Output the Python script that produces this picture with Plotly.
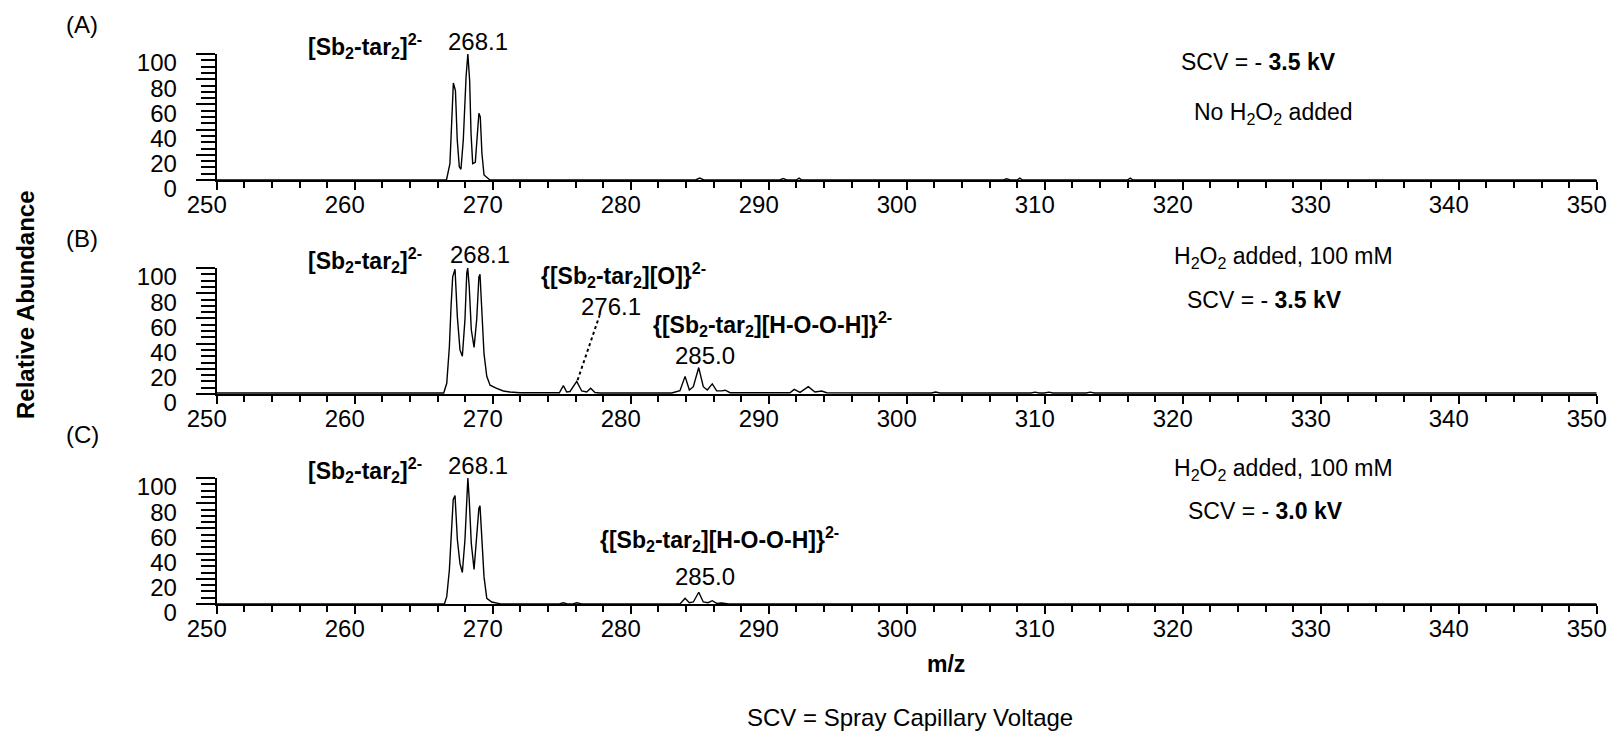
import plotly.graph_objects as go

# ---- spectrum profiles (m/z, relative abundance %) ----
# (A) no H2O2, SCV -3.5 kV
mz_a = [250.0, 266.65, 266.9, 267.0, 267.15, 267.3, 267.43, 267.58, 267.7, 267.87,
        268.07, 268.2, 268.33, 268.43, 268.55, 268.74, 268.88, 269.0, 269.1, 269.22,
        269.37, 269.6, 269.8, 284.7, 285.0, 285.3, 290.8, 291.05, 291.3, 292.0,
        292.2, 292.4, 307.0, 307.25, 307.5, 308.0, 308.2, 308.4, 316.0, 316.2,
        316.4, 350.0]
ab_a = [0, 0, 13, 37, 77, 71, 32, 10.5, 8.5, 32,
        82, 100, 79, 37, 13, 14, 40, 53, 50, 21,
        4, 2, 0, 0, 1.5, 0, 0, 1.2, 0, 0,
        1.5, 0, 0, 1, 0, 0, 1.5, 0, 0, 1.5,
        0, 0]

# (B) H2O2 100 mM, SCV -3.5 kV
mz_b = [250.0, 266.45, 266.67, 266.86, 266.98, 267.1, 267.27, 267.44, 267.63, 267.8,
        267.99, 268.12, 268.19, 268.3, 268.45, 268.65, 268.84, 269.0, 269.08, 269.2,
        269.37, 269.57, 269.81, 270.29, 270.77, 271.25, 271.98, 274.83, 275.12, 275.36,
        275.6, 276.09, 276.45, 276.81, 277.1, 277.41, 277.78, 282.97, 283.57, 283.94,
        284.25, 284.54, 284.93, 285.26, 285.55, 285.91, 286.23, 286.59, 286.85, 287.2,
        291.54, 291.85, 292.27, 292.87, 293.35, 293.84, 294.2, 301.8, 302.1, 302.4,
        309.0, 309.3, 309.6, 310.0, 310.3, 310.6, 313.0, 313.3, 313.6, 350.0]
ab_b = [0.8, 0.8, 8.5, 37.5, 69, 93, 99, 61, 35, 30,
        59, 96, 100, 85, 51, 37, 59, 93, 95, 72,
        32, 14, 7, 4.5, 2.4, 1.6, 1.0, 1.0, 6.6, 1.6,
        2.0, 10, 2.4, 1.6, 4.5, 1.2, 0.8, 0.8, 2.6, 14,
        3.2, 5.8, 21, 5.8, 3.2, 8, 2.5, 2.5, 3, 1.0,
        1.0, 3.7, 1.3, 5.8, 1.6, 2.4, 1.0, 0.8, 1.6, 0.8,
        0.8, 1.5, 0.8, 0.8, 1.5, 0.8, 0.8, 1.5, 0.8, 0.8]

# (C) H2O2 100 mM, SCV -3.0 kV
mz_c = [250.0, 266.5, 266.67, 266.86, 267.03, 267.14, 267.27, 267.44, 267.63, 267.8,
        267.99, 268.12, 268.2, 268.3, 268.45, 268.65, 268.84, 269.0, 269.08, 269.22,
        269.37, 269.57, 269.93, 270.41, 270.6, 274.83, 275.12, 275.4, 275.8, 276.09,
        276.45, 283.57, 283.94, 284.25, 284.54, 284.93, 285.26, 285.6, 285.91, 286.23,
        286.59, 287.1, 350.0]
ab_c = [0, 0, 5.8, 27, 61, 83, 86, 51, 32, 25,
        51, 85, 100, 83, 48, 27.5, 51, 76, 78, 51,
        21.7, 4.5, 1.6, 0.5, 0, 0, 1, 0, 0, 1,
        0, 0, 4.5, 1, 1.6, 9.3, 1.6, 1, 2.6, 0.5,
        0.8, 0, 0]

panel_tags = ["(A)", "(B)", "(C)"]
x_ticks = [250, 260, 270, 280, 290, 300, 310, 320, 330, 340, 350]
y_ticks = [0, 20, 40, 60, 80, 100]

# labelled peaks
base_peak = 268.1
oxo_peak = (276.1, 10.0)
peroxo_peak = 285.0

W, H = 1608, 732
FONT = "Arial, Liberation Sans, sans-serif"
FS = 23
TICK_FS = 24

# plot-area placement in pixels: (x-axis row, top row)
x_left, x_right = 216.7, 1596.7
rows = [(180, 54), (394, 268), (604, 478)]
X_MIN, X_MAX = 250, 350


def to_paper(mz, pct, panel):
    """Map (m/z, %) of a panel to paper coordinates (labels may sit above 100 %)."""
    bottom, top = rows[panel]
    px = x_left + (mz - X_MIN) / (X_MAX - X_MIN) * (x_right - x_left)
    py = bottom - pct / 100 * (bottom - top)
    return px / W, 1 - py / H


fig = go.Figure()
profiles = [(mz_a, ab_a), (mz_b, ab_b), (mz_c, ab_c)]
for i, (mz, ab) in enumerate(profiles, 1):
    sfx = "" if i == 1 else str(i)
    fig.add_trace(go.Scatter(
        x=mz, y=ab, mode="lines",
        line=dict(color="black", width=1.4),
        xaxis="x" + sfx, yaxis="y" + sfx, showlegend=False, hoverinfo="skip"))

    bottom, top = rows[i - 1]
    fig.update_layout(**{
        "xaxis" + sfx: dict(
            domain=[x_left / W, x_right / W], anchor="y" + sfx,
            range=[X_MIN, X_MAX], tickmode="array", tickvals=x_ticks,
            ticks="outside", ticklen=8, tickwidth=2, tickcolor="black",
            showline=True, linewidth=2, linecolor="black",
            showgrid=False, zeroline=False, automargin=False,
            minor=dict(dtick=2, tick0=250, ticks="outside", ticklen=6,
                       tickwidth=2, tickcolor="black", showgrid=False),
            tickfont=dict(family=FONT, size=TICK_FS, color="black"),
            ticklabelshift=-10, ticklabelstandoff=-6),
        "yaxis" + sfx: dict(
            domain=[1 - bottom / H, 1 - top / H], anchor="x" + sfx,
            range=[0, 100], tickmode="array", tickvals=y_ticks,
            ticks="outside", ticklen=19, tickwidth=2, tickcolor="black",
            showline=True, linewidth=2, linecolor="black",
            showgrid=False, zeroline=False, automargin=False,
            minor=dict(dtick=5, tick0=0, ticks="outside", ticklen=14,
                       tickwidth=2, tickcolor="black", showgrid=False),
            tickfont=dict(family=FONT, size=TICK_FS, color="black"),
            ticklabelshift=9, ticklabelstandoff=14),
    })


def note(text, mz, pct, panel, bold=False, size=FS):
    if bold:
        text = "<b>" + text + "</b>"
    xp, yp = to_paper(mz, pct, panel)
    fig.add_annotation(text=text, x=xp, y=yp, xref="paper", yref="paper",
                       showarrow=False, xanchor="center", yanchor="middle",
                       font=dict(family=FONT, size=size, color="black"))


SB = "[Sb<sub>2</sub>-tar<sub>2</sub>]"
SUP = "<sup>2-</sup>"
H2O2 = "H<sub>2</sub>O<sub>2</sub>"

# (A)
note(SB + SUP, 260.75, 106, 0, bold=True)
note(f"{base_peak:.1f}", 268.9, 110, 0, size=TICK_FS)
note("SCV = - <b>3.5 kV</b>", 325.5, 93.7, 0)
note("No " + H2O2 + " added", 326.6, 53, 0)

# (B)
note(SB + SUP, 260.75, 106, 1, bold=True)
note(f"{base_peak:.1f}", 269.1, 111, 1, size=TICK_FS)
note("{" + SB + "[O]}" + SUP, 279.5, 94.4, 1, bold=True)
note(f"{oxo_peak[0]:.1f}", 278.6, 69.8, 1, size=TICK_FS)
note("{" + SB + "[H-O-O-H]}" + SUP, 290.3, 55.6, 1, bold=True)
note(f"{peroxo_peak:.1f}", 285.35, 30.2, 1, size=TICK_FS)
note(H2O2 + " added, 100 mM", 327.3, 108.7, 1)
note("SCV = - <b>3.5 kV</b>", 325.9, 74.6, 1)

# (C)
note(SB + SUP, 260.75, 106, 2, bold=True)
note(f"{base_peak:.1f}", 268.95, 110, 2, size=TICK_FS)
note("{" + SB + "[H-O-O-H]}" + SUP, 286.4, 51.6, 2, bold=True)
note(f"{peroxo_peak:.1f}", 285.35, 22.2, 2, size=TICK_FS)
note(H2O2 + " added, 100 mM", 327.3, 107, 2)
note("SCV = - <b>3.0 kV</b>", 326.0, 73.8, 2)

# dotted leader from the oxo peak up to its label
fig.add_shape(type="line", xref="x2", yref="y2",
              x0=oxo_peak[0] + 0.05, y0=oxo_peak[1] + 1,
              x1=277.75, y1=62.5,
              line=dict(color="black", width=2, dash="dot"))

# panel tags
for tag, ypx in zip(panel_tags, [25, 239, 434]):
    fig.add_annotation(text=tag, x=82 / W, y=1 - ypx / H, xref="paper", yref="paper",
                       showarrow=False, xanchor="center", yanchor="middle",
                       font=dict(family=FONT, size=TICK_FS, color="black"))

fig.add_annotation(text="<b>Relative Abundance</b>", x=25 / W, y=1 - 305 / H,
                   xref="paper", yref="paper", textangle=-90, showarrow=False,
                   xanchor="center", yanchor="middle",
                   font=dict(family=FONT, size=24, color="black"))
fig.add_annotation(text="<b>m/z</b>", x=946 / W, y=1 - 664 / H,
                   xref="paper", yref="paper", showarrow=False,
                   xanchor="center", yanchor="middle",
                   font=dict(family=FONT, size=FS, color="black"))
fig.add_annotation(text="SCV = Spray Capillary Voltage", x=910 / W, y=1 - 717 / H,
                   xref="paper", yref="paper", showarrow=False,
                   xanchor="center", yanchor="middle",
                   font=dict(family=FONT, size=24, color="black"))

fig.update_layout(template="none", width=W, height=H, autosize=False,
                  margin=dict(l=0, r=0, t=0, b=0, pad=0),
                  paper_bgcolor="white", plot_bgcolor="white",
                  font=dict(family=FONT, size=FS, color="black"))

fig.write_html("out.html")
